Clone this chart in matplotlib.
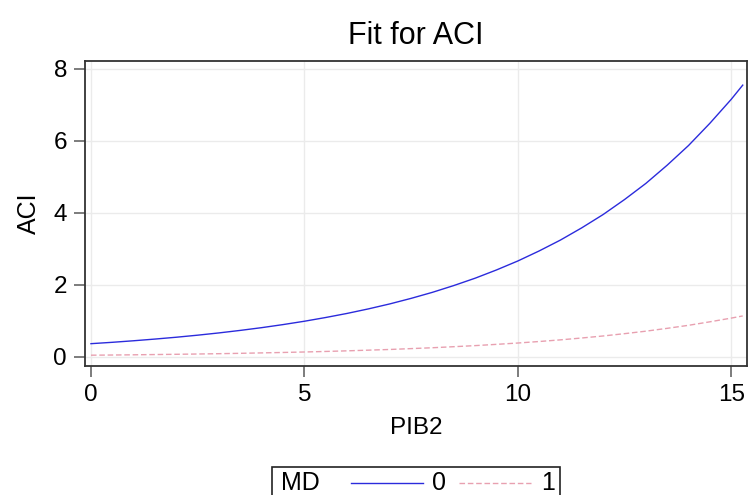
import matplotlib
matplotlib.use("Agg")
import matplotlib.pyplot as plt
from matplotlib.patches import Rectangle
from matplotlib.lines import Line2D

plt.rcParams['font.family'] = ['Liberation Sans', 'DejaVu Sans']

x_vals = [0, 0.5, 1, 1.5, 2, 2.5, 3, 3.5, 4, 4.5, 5, 5.5, 6, 6.5, 7, 7.5, 8,
          8.5, 9, 9.5, 10, 10.5, 11, 11.5, 12, 12.5, 13, 13.5, 14, 14.5, 15, 15.27]
aci_md0 = [0.370, 0.408, 0.451, 0.498, 0.549, 0.606, 0.669, 0.739, 0.815,
           0.900, 0.993, 1.097, 1.210, 1.336, 1.474, 1.628, 1.796, 1.984,
           2.188, 2.417, 2.666, 2.945, 3.248, 3.588, 3.957, 4.372, 4.820,
           5.327, 5.873, 6.490, 7.155, 7.55]
aci_md1 = [0.050, 0.055, 0.061, 0.068, 0.075, 0.083, 0.092, 0.102, 0.114,
           0.126, 0.139, 0.154, 0.171, 0.190, 0.209, 0.233, 0.257, 0.286,
           0.316, 0.351, 0.388, 0.430, 0.476, 0.528, 0.584, 0.648, 0.717,
           0.796, 0.880, 0.977, 1.080, 1.14]
x_ticks = [0, 5, 10, 15]
y_ticks = [0, 2, 4, 6, 8]
legend_title = "MD"
legend_labels = ["0", "1"]

blue = '#2b2bdc'
pink = '#e8a0b0'

fig = plt.figure(figsize=(7.49, 4.95), dpi=100)
ax = fig.add_axes([85/749, 1-366/495, (747-85)/749, (366-61)/495])

ax.plot(x_vals, aci_md0, color=blue, lw=1.0)
ax.plot(x_vals, aci_md1, color=pink, lw=1.0, ls=(0, (4, 2)))

ax.set_xlim(-0.14, 15.37)
ax.set_ylim(-0.25, 8.22)
ax.set_xticks(x_ticks)
ax.set_yticks(y_ticks)
ax.grid(True, color='#ebebeb', lw=1.0)
ax.set_axisbelow(True)
for s in ax.spines.values():
    s.set_color('#333333')
    s.set_linewidth(1.3)
ax.tick_params(axis='both', direction='out', length=8, width=1.2,
               color='#666666', labelsize=17.5, pad=5)

ax.set_title("Fit for ACI", fontsize=22, pad=12)
ax.set_xlabel("PIB2", fontsize=17.5, labelpad=8)
ax.set_ylabel("ACI", fontsize=18, labelpad=9)

# legend box at bottom
fig.patches.append(Rectangle((272/749, -0.05), (560-272)/749, (0.05 + 1-467/495),
                             transform=fig.transFigure, fill=False,
                             edgecolor='#222222', lw=1.2))
fig.text(281/749, 1-483/495, legend_title, fontsize=18, va='center', ha='left')
fig.lines.append(Line2D([351/749, 423/749], [1-483/495]*2, transform=fig.transFigure,
                        color=blue, lw=1.0))
fig.text(432/749, 1-483/495, legend_labels[0], fontsize=18, va='center', ha='left')
fig.lines.append(Line2D([459/749, 531/749], [1-483/495]*2, transform=fig.transFigure,
                        color=pink, lw=1.0, ls=(0, (4, 2))))
fig.text(541/749, 1-483/495, legend_labels[1], fontsize=18, va='center', ha='left')

fig.savefig("out.png", dpi=100)
